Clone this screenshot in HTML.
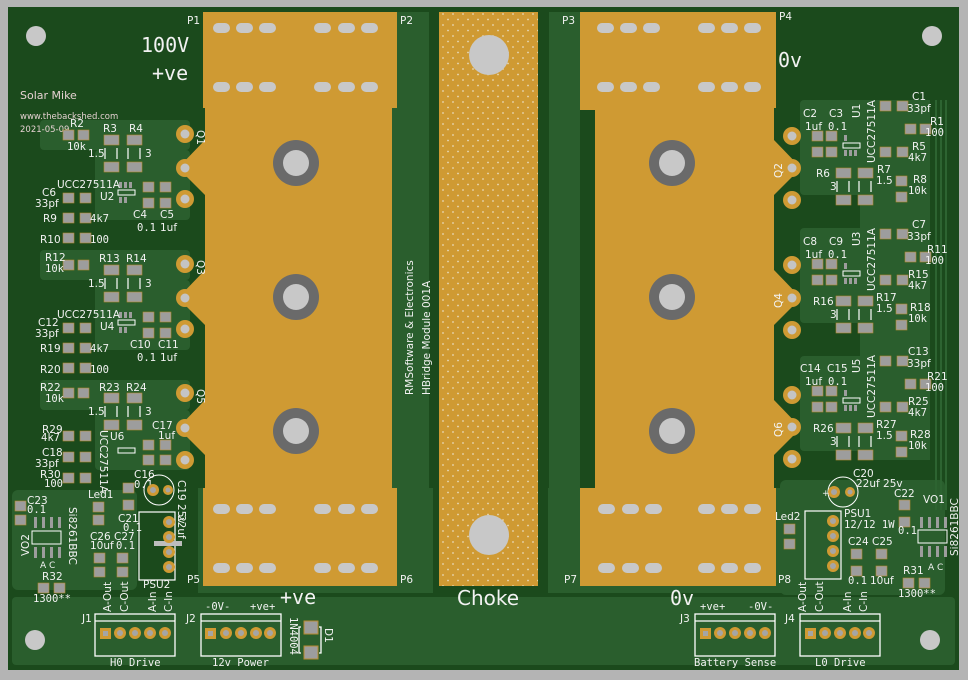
<!DOCTYPE html>
<html><head><meta charset="utf-8"><style>
html,body{margin:0;padding:0;background:#b4b4b4;}
svg{display:block}
text{fill:#f2f2f2;font-family:"DejaVu Sans","Liberation Sans",sans-serif;font-size:10.5px}
.m{font-family:"DejaVu Sans Mono","Liberation Mono",monospace}
.s{font-size:9px}
</style></head><body>
<svg width="968" height="680" viewBox="0 0 968 680" xmlns="http://www.w3.org/2000/svg">
<defs>
<pattern id="dots" width="10" height="11" patternUnits="userSpaceOnUse">
<rect width="10" height="11" fill="#cf9a33"/><circle cx="3" cy="3" r="0.9" fill="#e8d9b8"/><circle cx="8" cy="8.5" r="0.9" fill="#e8d9b8"/>
</pattern>
<g id="sp"><rect x="0" y="0" width="11" height="10" fill="#9d9d9d" stroke="#b88a2e" stroke-width="0.6"/></g>
<g id="bp"><rect x="0" y="0" width="15" height="10" fill="#9d9d9d" stroke="#b88a2e" stroke-width="0.6"/></g>
<g id="qp"><circle r="9" fill="#cf9a33"/><circle r="4.5" fill="#c4c4c4"/></g>
<g id="hole"><circle r="23" fill="#6a6a6a"/><circle r="13" fill="#c8c8c8"/></g>
<g id="slot"><rect x="-8" y="-5" width="17" height="10" rx="5" fill="#c8c8c8"/></g>
<g id="tp"><circle r="6" fill="#cf9a33"/><circle r="3" fill="#a5a5a5"/></g>
<g id="lg">
<use href="#bp" x="104" y="135"/><use href="#bp" x="104" y="162"/><use href="#bp" x="127" y="135"/><use href="#bp" x="127" y="162"/>
<g stroke="#fff" stroke-width="1.2"><line x1="105" y1="148" x2="105" y2="159"/><line x1="117" y1="148" x2="117" y2="159"/><line x1="128" y1="148" x2="128" y2="159"/><line x1="140" y1="148" x2="140" y2="159"/></g>
<rect x="118" y="190" width="17" height="5" fill="none" stroke="#fff"/>
<g fill="#9d9d9d"><rect x="119" y="182" width="3" height="6"/><rect x="124" y="182" width="3" height="6"/><rect x="129" y="182" width="3" height="6"/><rect x="119" y="197" width="3" height="6"/><rect x="124" y="197" width="3" height="6"/></g>
<use href="#sp" x="143" y="182"/><use href="#sp" x="143" y="198"/><use href="#sp" x="160" y="182"/><use href="#sp" x="160" y="198"/>
<use href="#sp" x="63" y="193"/><use href="#sp" x="80" y="193"/>
<use href="#sp" x="63" y="213"/><use href="#sp" x="80" y="213"/>
<use href="#sp" x="63" y="233"/><use href="#sp" x="80" y="233"/>
<use href="#sp" x="63" y="130"/><use href="#sp" x="78" y="130"/>
</g>
<g id="rg">
<use href="#sp" x="880" y="101"/><use href="#sp" x="897" y="101"/>
<use href="#sp" x="905" y="124"/><use href="#sp" x="920" y="124"/>
<use href="#sp" x="880" y="147"/><use href="#sp" x="897" y="147"/>
<use href="#sp" x="896" y="176"/><use href="#sp" x="896" y="192"/>
<use href="#sp" x="812" y="131"/><use href="#sp" x="812" y="147"/><use href="#sp" x="826" y="131"/><use href="#sp" x="826" y="147"/>
<rect x="843" y="143" width="17" height="5" fill="none" stroke="#fff"/>
<g fill="#9d9d9d"><rect x="844" y="135" width="3" height="6"/><rect x="849" y="150" width="3" height="6"/><rect x="854" y="150" width="3" height="6"/><rect x="844" y="150" width="3" height="6"/></g>
<use href="#bp" x="836" y="168"/><use href="#bp" x="836" y="195"/><use href="#bp" x="858" y="168"/><use href="#bp" x="858" y="195"/>
<g stroke="#fff" stroke-width="1.2"><line x1="837" y1="181" x2="837" y2="192"/><line x1="849" y1="181" x2="849" y2="192"/><line x1="859" y1="181" x2="859" y2="192"/><line x1="871" y1="181" x2="871" y2="192"/></g>
</g>
</defs>
<!-- board -->
<rect x="8" y="7" width="951" height="663" fill="#1b4a1c"/>
<!-- light pours -->
<g fill="#2a5e2d">
<rect x="40" y="120" width="150" height="30" rx="4"/>
<rect x="95" y="150" width="95" height="70" rx="4"/>
<rect x="40" y="250" width="150" height="30" rx="4"/>
<rect x="95" y="280" width="95" height="70" rx="4"/>
<rect x="40" y="380" width="150" height="30" rx="4"/>
<rect x="95" y="410" width="95" height="60" rx="4"/>
<rect x="12" y="490" width="125" height="100" rx="6"/>
<rect x="800" y="100" width="70" height="95" rx="4"/>
<rect x="800" y="228" width="70" height="95" rx="4"/>
<rect x="800" y="356" width="70" height="95" rx="4"/>
<rect x="860" y="100" width="70" height="360"/>
<rect x="780" y="480" width="165" height="115" rx="6"/>
<rect x="12" y="597" width="943" height="68" rx="4"/>
<rect x="392" y="12" width="37" height="580"/>
<rect x="549" y="12" width="31" height="580"/>
<rect x="198" y="488" width="235" height="105"/>
<rect x="548" y="488" width="240" height="105"/>
</g>
<g stroke="#2d6431" stroke-width="2" fill="none"><line x1="936" y1="100" x2="936" y2="510"/><line x1="941" y1="100" x2="941" y2="510"/><line x1="946" y1="100" x2="946" y2="510"/></g>
<!-- left copper -->
<polygon fill="#cf9a33" points="203,12 397,12 397,108 392,108 392,488 397,488 397,586 203,586 203,488 205,488 205,455 178,428 205,400 205,325 178,298 205,270 205,195 178,168 205,140 205,108 203,108"/>
<!-- right copper -->
<polygon fill="#cf9a33" points="580,12 776,12 776,108 774,108 774,140 801,168 774,195 774,270 801,298 774,325 774,400 801,428 774,455 774,488 776,488 776,586 580,586 580,488 595,488 595,110 580,110"/>
<!-- choke -->
<rect x="439" y="12" width="99" height="574" fill="url(#dots)"/>
<circle cx="489" cy="55" r="20" fill="#c8c8c8"/>
<circle cx="489" cy="535" r="20" fill="#c8c8c8"/>
<!-- slots -->
<g>
<use href="#slot" x="221" y="28"/><use href="#slot" x="244" y="28"/><use href="#slot" x="267" y="28"/><use href="#slot" x="322" y="28"/><use href="#slot" x="346" y="28"/><use href="#slot" x="369" y="28"/>
<use href="#slot" x="221" y="87"/><use href="#slot" x="244" y="87"/><use href="#slot" x="267" y="87"/><use href="#slot" x="322" y="87"/><use href="#slot" x="346" y="87"/><use href="#slot" x="369" y="87"/>
<use href="#slot" x="221" y="509"/><use href="#slot" x="244" y="509"/><use href="#slot" x="267" y="509"/><use href="#slot" x="322" y="509"/><use href="#slot" x="346" y="509"/><use href="#slot" x="369" y="509"/>
<use href="#slot" x="221" y="568"/><use href="#slot" x="244" y="568"/><use href="#slot" x="267" y="568"/><use href="#slot" x="322" y="568"/><use href="#slot" x="346" y="568"/><use href="#slot" x="369" y="568"/>
<use href="#slot" x="605" y="28"/><use href="#slot" x="628" y="28"/><use href="#slot" x="651" y="28"/><use href="#slot" x="706" y="28"/><use href="#slot" x="729" y="28"/><use href="#slot" x="752" y="28"/>
<use href="#slot" x="605" y="87"/><use href="#slot" x="628" y="87"/><use href="#slot" x="651" y="87"/><use href="#slot" x="706" y="87"/><use href="#slot" x="729" y="87"/><use href="#slot" x="752" y="87"/>
<use href="#slot" x="606" y="509"/><use href="#slot" x="630" y="509"/><use href="#slot" x="653" y="509"/><use href="#slot" x="706" y="509"/><use href="#slot" x="729" y="509"/><use href="#slot" x="752" y="509"/>
<use href="#slot" x="606" y="568"/><use href="#slot" x="630" y="568"/><use href="#slot" x="653" y="568"/><use href="#slot" x="706" y="568"/><use href="#slot" x="729" y="568"/><use href="#slot" x="752" y="568"/>
</g>
<use href="#hole" x="296" y="163"/><use href="#hole" x="296" y="297"/><use href="#hole" x="296" y="431"/>
<use href="#hole" x="672" y="163"/><use href="#hole" x="672" y="297"/><use href="#hole" x="672" y="431"/>
<g fill="#c8c8c8"><circle cx="36" cy="36" r="10"/><circle cx="932" cy="36" r="10"/><circle cx="35" cy="640" r="10"/><circle cx="930" cy="640" r="10"/></g>
<use href="#qp" x="185" y="134"/><use href="#qp" x="185" y="168"/><use href="#qp" x="185" y="199"/>
<use href="#qp" x="185" y="264"/><use href="#qp" x="185" y="298"/><use href="#qp" x="185" y="329"/>
<use href="#qp" x="185" y="393"/><use href="#qp" x="185" y="428"/><use href="#qp" x="185" y="460"/>
<use href="#qp" x="792" y="136"/><use href="#qp" x="792" y="168"/><use href="#qp" x="792" y="200"/>
<use href="#qp" x="792" y="265"/><use href="#qp" x="792" y="298"/><use href="#qp" x="792" y="330"/>
<use href="#qp" x="792" y="395"/><use href="#qp" x="792" y="427"/><use href="#qp" x="792" y="459"/>
<g class="s">
<text transform="translate(197,130) rotate(90)">Q1</text><text transform="translate(197,260) rotate(90)">Q3</text><text transform="translate(197,389) rotate(90)">Q5</text>
<text transform="translate(782,178) rotate(-90)">Q2</text><text transform="translate(782,308) rotate(-90)">Q4</text><text transform="translate(782,437) rotate(-90)">Q6</text>
</g>
<text x="141" y="52" class="m" style="font-size:20px">100V</text>
<text x="152" y="80" class="m" style="font-size:20px">+ve</text>
<text x="778" y="67" class="m" style="font-size:20px">0v</text>
<text x="280" y="604" class="m" style="font-size:20px">+ve</text>
<text x="457" y="605" style="font-size:20px">Choke</text>
<text x="670" y="605" class="m" style="font-size:20px">0v</text>
<g class="s">
<text x="187" y="24">P1</text><text x="400" y="24">P2</text><text x="562" y="24">P3</text><text x="779" y="20">P4</text>
<text x="187" y="583">P5</text><text x="400" y="583">P6</text><text x="564" y="583">P7</text><text x="778" y="583">P8</text>
</g>
<g class="m" style="font-size:13px">
<text transform="translate(413,395) rotate(-90)">RMSoftware &amp; Electronics</text>
<text transform="translate(430,395) rotate(-90)">HBridge Module 001A</text>
</g>
<text x="20" y="99" style="fill:#e6d2d2;font-size:11px">Solar Mike</text>
<text x="20" y="119" style="fill:#e6d2d2;font-size:8.5px">www.thebackshed.com</text>
<text x="20" y="132" style="fill:#e6d2d2;font-size:8.5px">2021-05-09</text>

<!-- LEFT GROUP 1 -->
<use href="#lg"/>
<text x="103" y="132">R3</text><text x="129" y="132">R4</text><text x="88" y="157">1.5</text><text x="145" y="157">3</text>
<text x="100" y="200">U2</text>
<text x="133" y="218">C4</text><text x="137" y="231" class="m">0.1</text><text x="160" y="218">C5</text><text x="160" y="231">1uf</text>
<text x="42" y="196">C6</text><text x="35" y="207">33pf</text>
<text x="43" y="222">R9</text><text x="90" y="222" class="m">4k7</text>
<text x="40" y="243">R10</text><text x="90" y="243" class="m">100</text>
<text x="57" y="188">UCC27511A</text>
<text x="70" y="127">R2</text><text x="67" y="150" class="m">10k</text>
<!-- LEFT GROUP 2 -->
<use href="#lg" y="130"/>
<text x="99" y="262">R13</text><text x="126" y="262">R14</text><text x="88" y="287">1.5</text><text x="145" y="287">3</text>
<text x="100" y="330">U4</text>
<text x="130" y="348">C10</text><text x="137" y="361" class="m">0.1</text><text x="158" y="348">C11</text><text x="160" y="361">1uf</text>
<text x="38" y="326">C12</text><text x="35" y="337">33pf</text>
<text x="40" y="352">R19</text><text x="90" y="352" class="m">4k7</text>
<text x="40" y="373">R20</text><text x="90" y="373" class="m">100</text>
<text x="57" y="318">UCC27511A</text>
<text x="45" y="261">R12</text><text x="45" y="272" class="m">10k</text>
<!-- LEFT GROUP 3 -->
<use href="#sp" x="63" y="388"/><use href="#sp" x="78" y="388"/>
<use href="#bp" x="104" y="393"/><use href="#bp" x="104" y="420"/><use href="#bp" x="127" y="393"/><use href="#bp" x="127" y="420"/>
<g stroke="#fff" stroke-width="1.2"><line x1="105" y1="406" x2="105" y2="417"/><line x1="117" y1="406" x2="117" y2="417"/><line x1="128" y1="406" x2="128" y2="417"/><line x1="140" y1="406" x2="140" y2="417"/></g>
<text x="99" y="391">R23</text><text x="126" y="391">R24</text><text x="88" y="415">1.5</text><text x="145" y="415">3</text>
<text x="40" y="391">R22</text><text x="45" y="402" class="m">10k</text>
<rect x="118" y="448" width="17" height="5" fill="none" stroke="#fff"/>
<use href="#sp" x="143" y="440"/><use href="#sp" x="143" y="455"/><use href="#sp" x="160" y="440"/><use href="#sp" x="160" y="455"/>
<text x="110" y="440">U6</text><text x="152" y="429">C17</text><text x="158" y="439">1uf</text>
<text transform="translate(100,430) rotate(90)">UCC27511A</text>
<use href="#sp" x="63" y="431"/><use href="#sp" x="80" y="431"/>
<use href="#sp" x="63" y="452"/><use href="#sp" x="80" y="452"/>
<use href="#sp" x="63" y="473"/><use href="#sp" x="80" y="473"/>
<text x="42" y="433">R29</text><text x="41" y="441" class="m">4k7</text>
<text x="42" y="456">C18</text><text x="35" y="467">33pf</text>
<text x="40" y="478">R30</text><text x="44" y="487" class="m">100</text>
<!-- left bottom area -->
<text x="134" y="478">C16</text><text x="134" y="488" class="m">0.1</text>
<circle cx="159" cy="490" r="15" fill="none" stroke="#fff"/>
<use href="#tp" x="153" y="490"/><circle cx="168" cy="490" r="5" fill="#cf9a33"/><circle cx="168" cy="490" r="2.5" fill="#a5a5a5"/>
<text transform="translate(178,480) rotate(90)">C19 25v</text>
<text transform="translate(178,515) rotate(90)">22uf</text>
<use href="#sp" x="123" y="483"/><use href="#sp" x="123" y="500"/>
<text x="118" y="522">C21</text><text x="123" y="531" class="m">0.1</text>
<rect x="139" y="512" width="36" height="68" fill="none" stroke="#fff" stroke-width="1.2"/>
<rect x="154" y="541" width="28" height="5" fill="#bdbdbd"/>
<use href="#tp" x="169" y="522"/><use href="#tp" x="169" y="537"/><use href="#tp" x="169" y="552"/><use href="#tp" x="169" y="567"/>
<text x="143" y="588">PSU2</text>
<text x="88" y="498">Led1</text>
<use href="#sp" x="93" y="502"/><use href="#sp" x="93" y="515"/>
<text x="90" y="540">C26</text><text x="90" y="549">10uf</text><text x="114" y="540">C27</text><text x="116" y="549" class="m">0.1</text>
<use href="#sp" x="94" y="553"/><use href="#sp" x="94" y="567"/><use href="#sp" x="117" y="553"/><use href="#sp" x="117" y="567"/>
<text x="27" y="504">C23</text><text x="27" y="513" class="m">0.1</text>
<use href="#sp" x="15" y="501"/><use href="#sp" x="15" y="515"/>
<rect x="32" y="531" width="29" height="13" fill="none" stroke="#fff"/>
<g fill="#9d9d9d"><rect x="34" y="517" width="3" height="11"/><rect x="42" y="517" width="3" height="11"/><rect x="50" y="517" width="3" height="11"/><rect x="58" y="517" width="3" height="11"/><rect x="34" y="547" width="3" height="11"/><rect x="42" y="547" width="3" height="11"/><rect x="50" y="547" width="3" height="11"/><rect x="58" y="547" width="3" height="11"/></g>
<text transform="translate(29,556) rotate(-90)">VO2</text>
<text transform="translate(69,507) rotate(90)">Si8261BBC</text>
<text x="40" y="568" class="s">A C</text>
<text x="42" y="580">R32</text>
<use href="#sp" x="38" y="583"/><use href="#sp" x="54" y="583"/>
<text x="33" y="602" class="m">1300**</text>

<!-- RIGHT GROUPS -->
<use href="#rg"/>
<text x="912" y="100">C1</text><text x="907" y="112">33pf</text>
<text x="930" y="125">R1</text><text x="925" y="136" class="m">100</text>
<text x="912" y="150">R5</text><text x="908" y="161" class="m">4k7</text>
<text x="913" y="183">R8</text><text x="908" y="194" class="m">10k</text>
<text x="803" y="117">C2</text><text x="805" y="130">1uf</text><text x="829" y="117">C3</text><text x="828" y="130" class="m">0.1</text>
<text transform="translate(860,118) rotate(-90)">U1</text>
<text transform="translate(875,163) rotate(-90)">UCC27511A</text>
<text x="816" y="177">R6</text><text x="830" y="190">3</text><text x="877" y="173">R7</text><text x="876" y="184">1.5</text>

<use href="#rg" y="128"/>
<text x="912" y="228">C7</text><text x="907" y="240">33pf</text>
<text x="927" y="253">R11</text><text x="925" y="264" class="m">100</text>
<text x="908" y="278">R15</text><text x="908" y="289" class="m">4k7</text>
<text x="910" y="311">R18</text><text x="908" y="322" class="m">10k</text>
<text x="803" y="245">C8</text><text x="805" y="258">1uf</text><text x="829" y="245">C9</text><text x="828" y="258" class="m">0.1</text>
<text transform="translate(860,246) rotate(-90)">U3</text>
<text transform="translate(875,291) rotate(-90)">UCC27511A</text>
<text x="813" y="305">R16</text><text x="830" y="318">3</text><text x="876" y="301">R17</text><text x="876" y="312">1.5</text>

<use href="#rg" y="255"/>
<text x="908" y="355">C13</text><text x="907" y="367">33pf</text>
<text x="927" y="380">R21</text><text x="925" y="391" class="m">100</text>
<text x="908" y="405">R25</text><text x="908" y="416" class="m">4k7</text>
<text x="910" y="438">R28</text><text x="908" y="449" class="m">10k</text>
<text x="800" y="372">C14</text><text x="805" y="385">1uf</text><text x="827" y="372">C15</text><text x="828" y="385" class="m">0.1</text>
<text transform="translate(860,373) rotate(-90)">U5</text>
<text transform="translate(875,418) rotate(-90)">UCC27511A</text>
<text x="813" y="432">R26</text><text x="830" y="445">3</text><text x="876" y="428">R27</text><text x="876" y="439">1.5</text>

<!-- right bottom area -->
<circle cx="843" cy="492" r="15" fill="none" stroke="#fff"/>
<use href="#tp" x="834" y="492"/><circle cx="850" cy="492" r="5" fill="#cf9a33"/><circle cx="850" cy="492" r="2.5" fill="#a5a5a5"/>
<text x="822" y="496" class="s">+</text>
<text x="853" y="477">C20</text><text x="856" y="487">22uf  25v</text>
<text x="894" y="497">C22</text>
<use href="#sp" x="899" y="500"/><use href="#sp" x="899" y="517"/>
<text x="898" y="534" class="m">0.1</text>
<text x="923" y="503">VO1</text>
<rect x="918" y="530" width="29" height="13" fill="none" stroke="#fff"/>
<g fill="#9d9d9d"><rect x="920" y="517" width="3" height="11"/><rect x="928" y="517" width="3" height="11"/><rect x="936" y="517" width="3" height="11"/><rect x="944" y="517" width="3" height="11"/><rect x="920" y="546" width="3" height="11"/><rect x="928" y="546" width="3" height="11"/><rect x="936" y="546" width="3" height="11"/><rect x="944" y="546" width="3" height="11"/></g>
<text transform="translate(958,556) rotate(-90)">Si8261BBC</text>
<text x="928" y="570" class="s">A C</text>
<text x="903" y="574">R31</text>
<use href="#sp" x="903" y="578"/><use href="#sp" x="919" y="578"/>
<text x="898" y="597" class="m">1300**</text>
<rect x="805" y="511" width="36" height="68" fill="none" stroke="#fff" stroke-width="1.2"/>
<use href="#tp" x="833" y="521"/><use href="#tp" x="833" y="536"/><use href="#tp" x="833" y="551"/><use href="#tp" x="833" y="566"/>
<text x="844" y="517">PSU1</text><text x="844" y="528" class="m">12/12  1W</text>
<text x="775" y="520">Led2</text>
<use href="#sp" x="784" y="524"/><use href="#sp" x="784" y="539"/>
<text x="848" y="545">C24</text><text x="872" y="545">C25</text>
<use href="#sp" x="851" y="549"/><use href="#sp" x="851" y="566"/><use href="#sp" x="876" y="549"/><use href="#sp" x="876" y="566"/>
<text x="848" y="584" class="m">0.1</text><text x="870" y="584">10uf</text>

<!-- connectors -->
<g fill="none" stroke="#fff" stroke-width="1.3">
<rect x="95" y="614" width="80" height="42"/><line x1="95" y1="621" x2="175" y2="621"/>
<rect x="201" y="614" width="80" height="42"/><line x1="201" y1="621" x2="281" y2="621"/>
<rect x="695" y="614" width="80" height="42"/><line x1="695" y1="621" x2="775" y2="621"/>
<rect x="800" y="614" width="80" height="42"/><line x1="800" y1="621" x2="880" y2="621"/>
<path d="M301 627 h-2 v26 h2 M319 627 h2 v26 h-2"/>
</g>
<g>
<rect x="100" y="628" width="11" height="11" fill="#cf9a33"/><rect x="103" y="631" width="5" height="5" fill="#a5a5a5"/>
<use href="#tp" x="120" y="633"/><use href="#tp" x="135" y="633"/><use href="#tp" x="150" y="633"/><use href="#tp" x="165" y="633"/>
<rect x="205" y="628" width="11" height="11" fill="#cf9a33"/><rect x="208" y="631" width="5" height="5" fill="#a5a5a5"/>
<use href="#tp" x="226" y="633"/><use href="#tp" x="241" y="633"/><use href="#tp" x="256" y="633"/><use href="#tp" x="270" y="633"/>
<rect x="700" y="628" width="11" height="11" fill="#cf9a33"/><rect x="703" y="631" width="5" height="5" fill="#a5a5a5"/>
<use href="#tp" x="720" y="633"/><use href="#tp" x="735" y="633"/><use href="#tp" x="750" y="633"/><use href="#tp" x="765" y="633"/>
<rect x="805" y="628" width="11" height="11" fill="#cf9a33"/><rect x="808" y="631" width="5" height="5" fill="#a5a5a5"/>
<use href="#tp" x="825" y="633"/><use href="#tp" x="840" y="633"/><use href="#tp" x="855" y="633"/><use href="#tp" x="869" y="633"/>
<rect x="304" y="621" width="14" height="13" fill="#9d9d9d" stroke="#b88a2e"/><rect x="304" y="646" width="14" height="13" fill="#9d9d9d" stroke="#b88a2e"/>
</g>
<text x="82" y="622">J1</text><text x="186" y="622">J2</text><text x="680" y="622">J3</text><text x="785" y="622">J4</text>
<text x="110" y="666" class="m">H0 Drive</text><text x="212" y="666" class="m">12v Power</text>
<text x="694" y="666" class="m">Battery Sense</text><text x="815" y="666" class="m">L0 Drive</text>
<g class="s">
<text transform="translate(111,612) rotate(-90)">A-Out</text><text transform="translate(128,612) rotate(-90)">C-Out</text>
<text transform="translate(156,612) rotate(-90)">A-In</text><text transform="translate(172,612) rotate(-90)">C-In</text>
<text transform="translate(806,612) rotate(-90)">A-Out</text><text transform="translate(823,612) rotate(-90)">C-Out</text>
<text transform="translate(851,612) rotate(-90)">A-In</text><text transform="translate(867,612) rotate(-90)">C-In</text>
<text x="205" y="610" class="m">-0V-</text><text x="250" y="610" class="m">+ve+</text>
<text x="700" y="610" class="m">+ve+</text><text x="748" y="610" class="m">-0V-</text>
<text transform="translate(290,617) rotate(90)" class="m">1N4004</text>
<text transform="translate(325,628) rotate(90)">D1</text>
</g>
</svg>
</body></html>
